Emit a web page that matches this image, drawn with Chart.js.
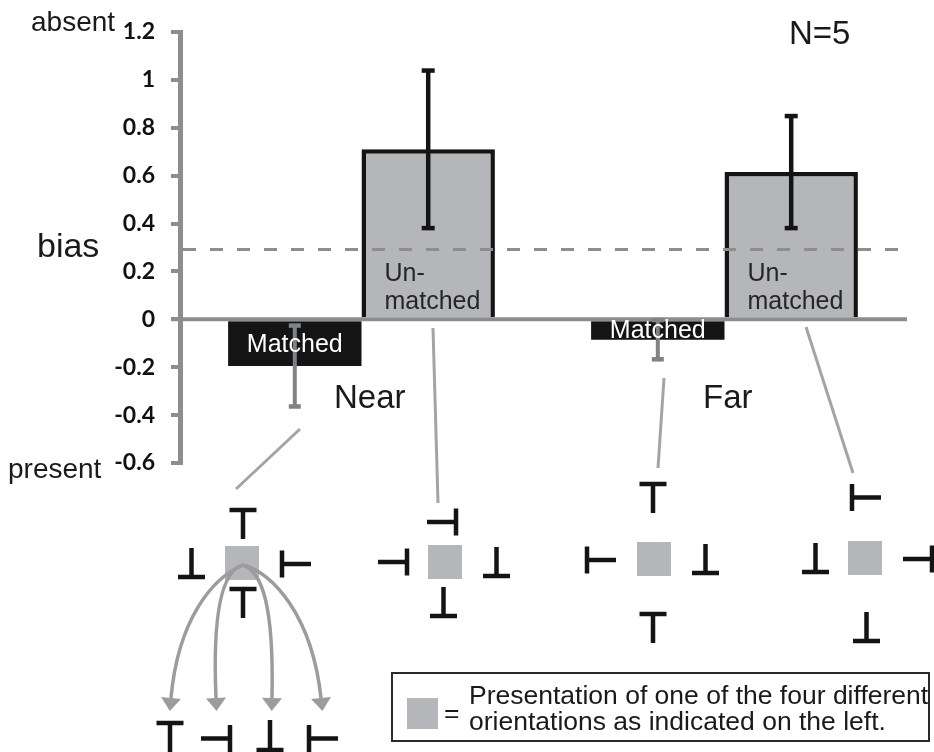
<!DOCTYPE html>
<html>
<head>
<meta charset="utf-8">
<script src="https://cdn.jsdelivr.net/npm/chart.js@4"></script>
<style>
  html, body { margin: 0; padding: 0; background: #ffffff; }
  #wrap { width: 934px; height: 752px; position: relative; }
</style>
</head>
<body>
<div id="wrap"><canvas id="c" width="934" height="752"></canvas></div>
<script>
// Mean bias per distance condition, with the spread drawn as error bars
const groups = ['Near', 'Far'];
const matchedBias = [-0.195, -0.085];
const matchedErr = [0.17, 0.083];
const unmatchedBias = [0.71, 0.615];
const unmatchedErr = [0.33, 0.235];
const referenceBias = 0.292;
const yTickValues = [-0.6, -0.4, -0.2, 0, 0.2, 0.4, 0.6, 0.8, 1, 1.2];
const yTickLabels = ['-0.6', '-0.4', '-0.2', '0', '0.2', '0.4', '0.6', '0.8', '1', '1.2'];

const AXIS_GREY = '#8b8e91';
const BAR_GREY = '#b4b6b9';
const INK = '#141414';
const LINK_GREY = '#a2a4a6';
const SANS = '"Liberation Sans", Arial, sans-serif';

// Small helpers for the T-shaped stimulus glyphs
function glyph(ctx, kind, x, y, w, h) {
  ctx.beginPath();
  if (kind === 'T') {            // bar on top, stem pointing down
    ctx.moveTo(x - w / 2, y); ctx.lineTo(x + w / 2, y);
    ctx.moveTo(x, y); ctx.lineTo(x, y + h);
  } else if (kind === 'inv') {   // bar at bottom, stem pointing up
    ctx.moveTo(x - w / 2, y); ctx.lineTo(x + w / 2, y);
    ctx.moveTo(x, y); ctx.lineTo(x, y - h);
  } else if (kind === 'right') { // vertical bar, stem pointing right
    ctx.moveTo(x, y - w / 2); ctx.lineTo(x, y + w / 2);
    ctx.moveTo(x, y); ctx.lineTo(x + h, y);
  } else if (kind === 'left') {  // vertical bar, stem pointing left
    ctx.moveTo(x, y - w / 2); ctx.lineTo(x, y + w / 2);
    ctx.moveTo(x, y); ctx.lineTo(x - h, y);
  }
  ctx.stroke();
}

function arrowCurve(ctx, p0, p1, p2, p3) {
  ctx.beginPath();
  ctx.moveTo(p0[0], p0[1]);
  ctx.bezierCurveTo(p1[0], p1[1], p2[0], p2[1], p3[0], p3[1]);
  ctx.stroke();
  const ang = Math.atan2(p3[1] - p2[1], p3[0] - p2[0]);
  const len = 13, half = 10;
  const tx = p3[0] + Math.cos(ang) * len, ty = p3[1] + Math.sin(ang) * len;
  const nx = -Math.sin(ang), ny = Math.cos(ang);
  ctx.beginPath();
  ctx.moveTo(tx, ty);
  ctx.lineTo(p3[0] + nx * half, p3[1] + ny * half);
  ctx.lineTo(p3[0] - nx * half, p3[1] - ny * half);
  ctx.closePath();
  ctx.fill();
}

const figureExtras = {
  id: 'figureExtras',
  afterDatasetsDraw(chart) {
    const ctx = chart.ctx;
    const y = chart.scales.y;
    const area = chart.chartArea;
    ctx.save();

    // zero line, running through the tick stub
    const y0 = y.getPixelForValue(0);
    ctx.strokeStyle = AXIS_GREY;
    ctx.lineWidth = 4;
    ctx.beginPath();
    ctx.moveTo(area.left - 9, y0);
    ctx.lineTo(area.right + 1, y0);
    ctx.stroke();

    // dashed reference level
    const yr = y.getPixelForValue(referenceBias);
    ctx.strokeStyle = '#8e8e8e';
    ctx.lineWidth = 3;
    ctx.setLineDash([13, 14]);
    ctx.beginPath();
    ctx.moveTo(area.left + 3, yr);
    ctx.lineTo(area.right + 6, yr);
    ctx.stroke();
    ctx.setLineDash([]);

    // error bars
    const drawErr = (meta, vals, errs, color, lw, cap) => {
      ctx.strokeStyle = color;
      ctx.fillStyle = color;
      meta.data.forEach((bar, i) => {
        const top = y.getPixelForValue(vals[i] + errs[i]);
        const bot = y.getPixelForValue(vals[i] - errs[i]);
        ctx.lineWidth = lw;
        ctx.beginPath();
        ctx.moveTo(bar.x, top);
        ctx.lineTo(bar.x, bot);
        ctx.stroke();
        ctx.fillRect(bar.x - cap / 2, top - 2, cap, 4.5);
        ctx.fillRect(bar.x - cap / 2, bot - 2.5, cap, 4.5);
      });
    };
    drawErr(chart.getDatasetMeta(0), matchedBias, matchedErr, '#7f8387', 4, 12);
    drawErr(chart.getDatasetMeta(1), unmatchedBias, unmatchedErr, INK, 4.5, 13);

    // captions inside the bars
    ctx.font = '25px ' + SANS;
    ctx.textBaseline = 'middle';
    ctx.textAlign = 'center';
    ctx.fillStyle = '#ffffff';
    chart.getDatasetMeta(0).data.forEach(bar => {
      ctx.fillText('Matched', bar.x, (bar.y + bar.base) / 2 + 1);
    });
    ctx.textBaseline = 'alphabetic';
    ctx.textAlign = 'left';
    ctx.fillStyle = '#262626';
    chart.getDatasetMeta(1).data.forEach(bar => {
      const left = bar.x - bar.width / 2 + 23;
      ctx.fillText('Un-', left, bar.base - 36);
      ctx.fillText('matched', left, bar.base - 8);
    });
    ctx.restore();
  },
  afterDraw(chart) {
    const ctx = chart.ctx;
    ctx.save();
    ctx.fillStyle = '#1a1a1a';
    ctx.textBaseline = 'alphabetic';
    ctx.textAlign = 'left';

    ctx.font = '28px ' + SANS;
    ctx.fillText('absent', 31, 31);
    ctx.fillText('present', 8, 478);
    ctx.font = '34px ' + SANS;
    ctx.fillText('bias', 37, 257);
    ctx.font = '33px ' + SANS;
    ctx.fillText('N=5', 789, 44);
    ctx.fillText('Near', 334, 408);
    ctx.fillText('Far', 703, 408);

    // leader lines from the bars to their stimulus layouts
    ctx.strokeStyle = LINK_GREY;
    ctx.lineWidth = 3;
    ctx.lineCap = 'butt';
    [[300, 429, 236, 489], [433, 328, 438, 503], [664, 378, 658, 468], [806, 327, 853, 473]]
      .forEach(s => { ctx.beginPath(); ctx.moveTo(s[0], s[1]); ctx.lineTo(s[2], s[3]); ctx.stroke(); });

    // grey target squares
    ctx.fillStyle = BAR_GREY;
    [[225, 546], [428, 545], [637, 542], [848, 541]].forEach(p => ctx.fillRect(p[0], p[1], 34, 34));

    // curved arrows fanning out to the four orientations
    ctx.strokeStyle = '#9c9c9c';
    ctx.fillStyle = '#9c9c9c';
    ctx.lineWidth = 3.5;
    const apex = [243, 565];
    arrowCurve(ctx, apex, [212, 578], [178, 620], [171, 698]);
    arrowCurve(ctx, apex, [224, 570], [212, 605], [216, 698]);
    arrowCurve(ctx, apex, [262, 572], [274, 605], [272, 698]);
    arrowCurve(ctx, apex, [272, 572], [312, 615], [321, 698]);

    // flanker glyphs
    ctx.strokeStyle = INK;
    ctx.lineWidth = 4.5;
    const W = 27, H = 29;
    // near, matched
    glyph(ctx, 'T', 243, 510, W, H);
    glyph(ctx, 'inv', 191.5, 577, W, H);
    glyph(ctx, 'right', 282, 564, W, H);
    glyph(ctx, 'T', 243, 589, W, H);
    // near, unmatched
    glyph(ctx, 'left', 456, 522, W, H);
    glyph(ctx, 'left', 407, 562, W, H);
    glyph(ctx, 'inv', 496.5, 576, W, H);
    glyph(ctx, 'inv', 443.5, 616, W, H);
    // far, matched
    glyph(ctx, 'T', 653, 484, W, H);
    glyph(ctx, 'right', 587, 560, W, H);
    glyph(ctx, 'inv', 705.5, 573, W, H);
    glyph(ctx, 'T', 653, 614, W, H);
    // far, unmatched
    glyph(ctx, 'right', 852, 497.5, W, H);
    glyph(ctx, 'inv', 815.5, 572, W, H);
    glyph(ctx, 'left', 932, 559, W, H);
    glyph(ctx, 'inv', 866.5, 641, W, H);
    // the four possible target orientations
    glyph(ctx, 'T', 170, 723, W, 32);
    glyph(ctx, 'left', 230, 738.5, W, H);
    glyph(ctx, 'inv', 270, 750, W, 30);
    glyph(ctx, 'right', 309, 738.5, W, H);

    // key box
    ctx.strokeStyle = '#2a2a2a';
    ctx.lineWidth = 2;
    ctx.strokeRect(392, 673, 537, 68);
    ctx.fillStyle = BAR_GREY;
    ctx.fillRect(407, 698, 31, 31);
    ctx.fillStyle = '#1a1a1a';
    ctx.font = '26.5px ' + SANS;
    ctx.fillText('=', 444, 722);
    ctx.fillText('Presentation of one of the four different', 469, 704);
    ctx.fillText('orientations as indicated on the left.', 469, 730);
    ctx.restore();
  }
};

new Chart(document.getElementById('c'), {
  type: 'bar',
  data: {
    labels: groups,
    datasets: [
      {
        label: 'Matched',
        data: matchedBias,
        backgroundColor: INK,
        borderWidth: 0
      },
      {
        label: 'Unmatched',
        data: unmatchedBias,
        backgroundColor: BAR_GREY,
        borderColor: INK,
        borderWidth: 4.5,
        borderSkipped: 'start'
      }
    ]
  },
  options: {
    responsive: false,
    animation: false,
    devicePixelRatio: 1,
    layout: { padding: { left: 0, top: 32, right: 28, bottom: 289 } },
    datasets: { bar: { categoryPercentage: 0.735, barPercentage: 1 } },
    plugins: { legend: { display: false }, tooltip: { enabled: false } },
    scales: {
      x: { display: false },
      y: {
        min: -0.6,
        max: 1.2,
        afterFit(scale) { scale.width = 180; },
        afterBuildTicks(scale) { scale.ticks = yTickValues.map(v => ({ value: v })); },
        grid: {
          drawOnChartArea: false,
          drawTicks: true,
          tickLength: 9,
          tickWidth: 4,
          tickColor: AXIS_GREY,
          lineWidth: 4,
          color: AXIS_GREY
        },
        border: { display: true, color: AXIS_GREY, width: 5 },
        ticks: {
          padding: 16,
          color: '#111111',
          font: { family: 'Lato, "Liberation Sans", sans-serif', weight: 'bold', size: 23 },
          callback(v) {
            const i = yTickValues.findIndex(t => Math.abs(t - v) < 1e-9);
            return i >= 0 ? yTickLabels[i] : '';
          }
        }
      }
    }
  },
  plugins: [figureExtras]
});
</script>
</body>
</html>
